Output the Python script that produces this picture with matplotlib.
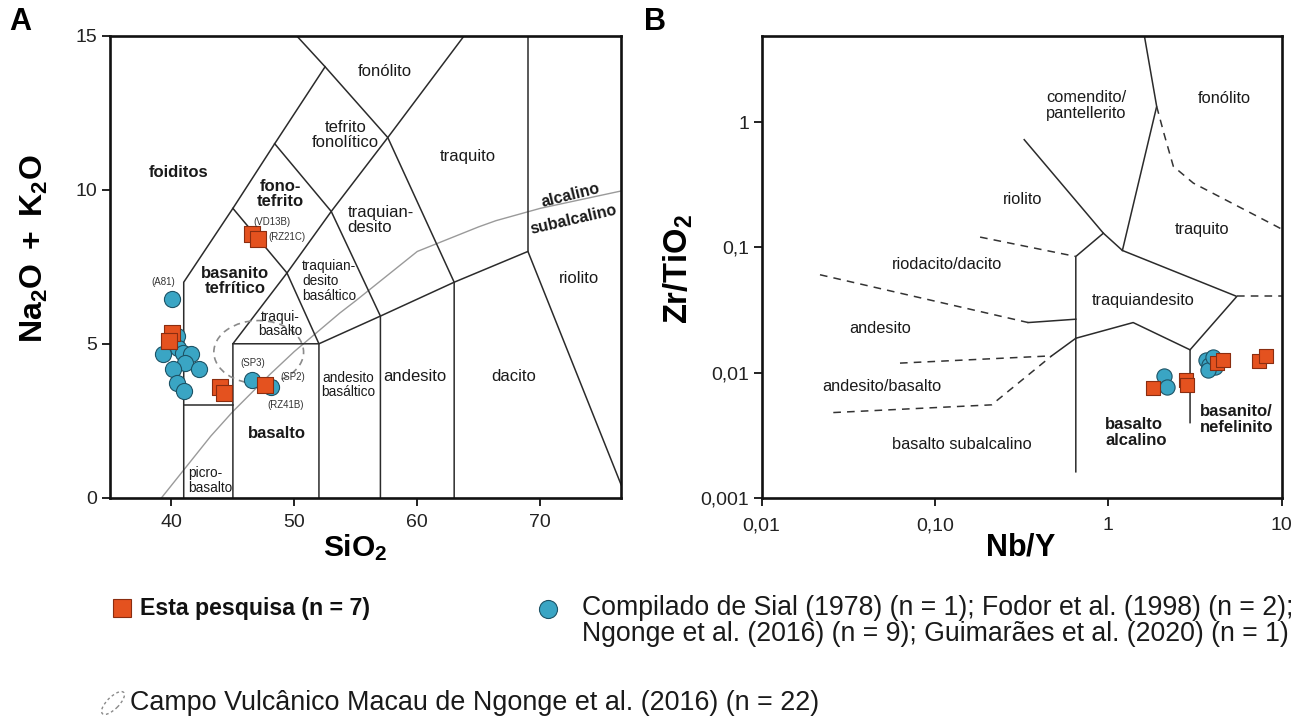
import matplotlib
matplotlib.use('Agg')
import matplotlib.pyplot as plt
from matplotlib.patches import Ellipse
from matplotlib.lines import Line2D

plt.rcParams['font.family'] = ['Liberation Sans', 'DejaVu Sans']
plt.rcParams['mathtext.fontset'] = 'custom'
plt.rcParams['mathtext.rm'] = 'Liberation Sans'
plt.rcParams['mathtext.bf'] = 'Liberation Sans:bold'
plt.rcParams['mathtext.it'] = 'Liberation Sans:italic'

# ---------------- data: panel A (TAS) ----------------
tas_circ_sio2 = [40.02, 40.43, 40.56, 39.34, 40.92, 41.60, 41.11, 40.15, 42.27, 40.43, 41.05, 46.59, 48.09]
tas_circ_alk = [6.45, 5.25, 4.85, 4.67, 4.71, 4.67, 4.37, 4.17, 4.17, 3.72, 3.48, 3.82, 3.61]
tas_sq_sio2 = [46.59, 47.08, 40.02, 39.80, 43.96, 44.31, 47.62]
tas_sq_alk = [8.56, 8.40, 5.34, 5.09, 3.61, 3.41, 3.66]
sample_names = ['(VD13B)', '(RZ21C)', '(A81)', '(SP3)', '(SP2)', '(RZ41B)']

# Irvine & Baragar alkaline / subalkaline divide
ib_sio2 = [39.2, 40.0, 43.2, 45.0, 48.0, 50.0, 53.7, 55.0, 60.0, 65.0, 66.4, 70.0, 77.0]
ib_alk = [0.0, 0.4, 2.0, 2.8, 4.0, 4.75, 6.0, 6.4, 8.0, 8.8, 9.0, 9.4, 10.0]

# TAS field boundaries (Le Bas et al. 1986)
tas_bounds = [
    [(41, 0), (41, 7), (45, 9.4), (48.4, 11.5), (52.5, 14), (50.2, 15)],
    [(41, 3), (45, 3)],
    [(45, 0), (45, 5), (49.4, 7.3), (53, 9.3), (57.6, 11.7), (63.8, 15)],
    [(45, 9.4), (49.4, 7.3), (52, 5), (52, 0)],
    [(48.4, 11.5), (53, 9.3), (57, 5.9), (57, 0)],
    [(52.5, 14), (57.6, 11.7), (63, 7), (63, 0)],
    [(45, 5), (52, 5), (57, 5.9), (63, 7), (69, 8), (77, 0)],
    [(69, 8), (69, 15)],
]

# ---------------- data: panel B (Nb/Y vs Zr/TiO2) ----------------
wf_circ_nby = [2.10, 2.19, 3.66, 3.83, 4.13, 3.78, 4.03]
wf_circ_zr = [0.0094, 0.0077, 0.0126, 0.0115, 0.0110, 0.0105, 0.0134]
wf_sq_nby = [1.80, 2.81, 2.86, 4.25, 4.61, 7.43, 8.13]
wf_sq_zr = [0.0075, 0.0088, 0.0080, 0.0119, 0.0127, 0.0123, 0.0136]

wf_solid = [
    [(1.61, 5.0), (1.90, 1.34), (1.205, 0.0946)],
    [(0.327, 0.727), (0.936, 0.130), (1.205, 0.0946), (5.51, 0.0406), (2.96, 0.0152), (2.96, 0.00398)],
    [(0.936, 0.130), (0.649, 0.0847), (0.649, 0.00161)],
    [(0.649, 0.0188), (1.39, 0.0251), (2.96, 0.0152)],
    [(0.345, 0.0251), (0.649, 0.0267)],
    [(0.471, 0.0136), (0.649, 0.0188)],
]
wf_dashed = [
    [(0.0217, 0.0605), (0.345, 0.0251)],
    [(0.0628, 0.0119), (0.471, 0.0136)],
    [(0.0259, 0.00479), (0.212, 0.00552), (0.471, 0.0136)],
    [(0.182, 0.121), (0.649, 0.0847)],
    [(1.90, 1.34), (2.10, 0.80), (2.37, 0.445), (3.09, 0.327), (9.37, 0.147), (10, 0.14)],
    [(5.51, 0.0406), (10, 0.0406)],
]

SQ_FACE, SQ_EDGE = '#E4521F', '#8A2D10'
CI_FACE, CI_EDGE = '#3AA5C4', '#1D5366'
LINE_C = '#2b2b2b'
TXT_C = '#1a1a1a'

fig = plt.figure(figsize=(13.06, 7.24), dpi=100)
axA = fig.add_axes([0.0842, 0.3126, 0.3911, 0.6377])
axB = fig.add_axes([0.5832, 0.3126, 0.3982, 0.6377])

for ax in (axA, axB):
    for s in ax.spines.values():
        s.set_linewidth(1.9)
        s.set_color('#111111')
    ax.tick_params(direction='out', length=6, width=1.3, labelsize=14,
                   colors='#111111', labelcolor='#222222', pad=3)

# ---------------- Panel A ----------------
axA.set_xlim(35, 76.55)
axA.set_ylim(0, 15)
axA.set_xticks([40, 50, 60, 70])
axA.set_yticks([0, 5, 10, 15])
axA.tick_params(axis='x', pad=6)
for line in tas_bounds:
    xs, ys = zip(*line)
    axA.plot(xs, ys, color=LINE_C, lw=1.1, solid_joinstyle='miter', zorder=2)
axA.plot(ib_sio2, ib_alk, color='#9a9a9a', lw=1.0, zorder=1.5)
axA.add_patch(Ellipse((47.1, 4.73), 7.3, 2.05, fill=False, ec='#8a8a8a',
                      lw=1.2, ls=(0, (4, 3)), zorder=2.5))
axA.scatter(tas_circ_sio2, tas_circ_alk, s=135, marker='o', fc=CI_FACE,
            ec=CI_EDGE, lw=0.8, zorder=4)
axA.scatter(tas_sq_sio2, tas_sq_alk, s=125, marker='s', fc=SQ_FACE,
            ec=SQ_EDGE, lw=0.8, zorder=5)

name_pos = [(48.17, 8.97), (49.39, 8.48), (39.32, 7.01), (46.65, 4.39),
            (49.90, 3.92), (49.25, 3.01)]
for nm, (x, y) in zip(sample_names, name_pos):
    axA.text(x, y, nm, fontsize=7, color='#333333', ha='center', va='center', zorder=6)

regA = [
    ('fonólito', 57.39, 13.84),
    ('tefrito\nfonolítico', 54.14, 11.78),
    ('traquito', 64.15, 11.07),
    ('andesito', 59.84, 3.93),
    ('dacito', 67.82, 3.93),
    ('riolito', 73.19, 7.11),
]
for t, x, y in regA:
    axA.text(x, y, t, fontsize=12, ha='center', va='center', color=TXT_C,
             linespacing=1.05, zorder=3)
axA.text(57.0, 9.02, 'traquian-\ndesito', fontsize=12, ha='center', va='center',
         multialignment='left', color=TXT_C, linespacing=1.05, zorder=3)
small = [
    ('andesito\nbasáltico', 54.38, 3.66, 'center', 'center'),
    ('traqui-\nbasalto', 48.84, 5.64, 'center', 'center'),
]
for t, x, y, ha, ma in small:
    axA.text(x, y, t, fontsize=9.8, ha=ha, va='center', multialignment=ma,
             color=TXT_C, linespacing=1.05, zorder=3)
axA.text(50.62, 7.04, 'traquian-\ndesito\nbasáltico', fontsize=9.8, ha='left',
         va='center', color=TXT_C, linespacing=1.05, zorder=3)
axA.text(41.35, 0.56, 'picro-\nbasalto', fontsize=9.8, ha='left', va='center',
         color=TXT_C, linespacing=1.05, zorder=3)
boldA = [
    ('foiditos', 40.54, 10.58),
    ('fono-\ntefrito', 48.84, 9.87),
    ('basanito\ntefrítico', 45.18, 7.04),
    ('basalto', 48.57, 2.10),
]
for t, x, y in boldA:
    axA.text(x, y, t, fontsize=12, fontweight='bold', ha='center', va='center',
             color=TXT_C, linespacing=1.05, zorder=3)
axA.text(72.46, 9.83, 'alcalino', fontsize=11.5, fontweight='bold', rotation=14,
         ha='center', va='center', rotation_mode='anchor', color=TXT_C)
axA.text(72.75, 9.02, 'subalcalino', fontsize=11.5, fontweight='bold', rotation=13,
         ha='center', va='center', rotation_mode='anchor', color=TXT_C)

axA.set_ylabel(r'$\mathbf{Na_2O\ +\ K_2O}$', fontsize=23)
axA.yaxis.set_label_coords(-0.118, 0.54)
axA.set_xlabel(r'$\mathbf{SiO_2}$', fontsize=21.5)
axA.xaxis.set_label_coords(0.48, -0.075)

# ---------------- Panel B ----------------
axB.set_xscale('log')
axB.set_yscale('log')
axB.set_xlim(0.01, 10)
axB.set_ylim(0.001, 4.9)
axB.set_xticks([0.01, 0.1, 1, 10])
axB.set_xticklabels(['0,01', '0,10', '1', '10'])
axB.set_yticks([0.001, 0.01, 0.1, 1])
axB.set_yticklabels(['0,001', '0,01', '0,1', '1'])
axB.minorticks_off()
axB.tick_params(axis='x', pad=8)

for line in wf_solid:
    xs, ys = zip(*line)
    axB.plot(xs, ys, color=LINE_C, lw=1.1, zorder=2)
for line in wf_dashed:
    xs, ys = zip(*line)
    axB.plot(xs, ys, color='#333333', lw=1.1, ls=(0, (5, 4)), zorder=2)

axB.scatter(wf_circ_nby, wf_circ_zr, s=120, marker='o', fc=CI_FACE, ec=CI_EDGE,
            lw=0.8, zorder=4)
axB.scatter(wf_sq_nby, wf_sq_zr, s=115, marker='s', fc=SQ_FACE, ec=SQ_EDGE,
            lw=0.8, zorder=5)

regB = [
    ('comendito/\npantellerito', 0.437, 1.36, 'left'),
    ('fonólito', 4.67, 1.54, 'center'),
    ('riolito', 0.321, 0.241, 'center'),
    ('traquito', 3.46, 0.140, 'center'),
    ('riodacito/dacito', 0.0562, 0.0727, 'left'),
    ('andesito', 0.0482, 0.0224, 'center'),
    ('andesito/basalto', 0.0492, 0.00773, 'center'),
    ('basalto subalcalino', 0.0562, 0.00264, 'left'),
    ('traquiandesito', 1.59, 0.0377, 'center'),
]
for t, x, y, ha in regB:
    axB.text(x, y, t, fontsize=11.8, ha=ha, va='center', color=TXT_C,
             linespacing=1.05, zorder=3)
axB.text(0.957, 0.0033, 'basalto\nalcalino', fontsize=12, fontweight='bold',
         ha='left', va='center', color=TXT_C, linespacing=1.1)
axB.text(3.39, 0.00419, 'basanito/\nnefelinito', fontsize=12, fontweight='bold',
         ha='left', va='center', color=TXT_C, linespacing=1.1)

axB.set_ylabel(r'$\mathbf{Zr/TiO_2}$', fontsize=23.5)
axB.yaxis.set_label_coords(-0.128, 0.495)
axB.set_xlabel(r'$\mathbf{Nb/Y}$', fontsize=22)
axB.xaxis.set_label_coords(0.497, -0.075)

# panel letters
fig.text(0.0153, 0.970, 'A', fontsize=22, fontweight='bold', ha='center', va='center')
fig.text(0.5015, 0.970, 'B', fontsize=22, fontweight='bold', ha='center', va='center')

# ---------------- legend ----------------
fig.add_artist(Line2D([0.0934], [0.1602], marker='s', ms=13, mfc=SQ_FACE, mec=SQ_EDGE,
                      mew=0.8, ls='none', transform=fig.transFigure))
fig.text(0.1072, 0.1602, 'Esta pesquisa (n = 7)', fontsize=16.7, fontweight='bold',
         ha='left', va='center', color='#111111')
fig.add_artist(Line2D([0.4198], [0.1588], marker='o', ms=13, mfc=CI_FACE, mec=CI_EDGE,
                      mew=0.8, ls='none', transform=fig.transFigure))
fig.text(0.4455, 0.1425,
         'Compilado de Sial (1978) (n = 1); Fodor et al. (1998) (n = 2);\n'
         'Ngonge et al. (2016) (n = 9); Guimarães et al. (2020) (n = 1)',
         fontsize=19.2, ha='left', va='center', color=TXT_C, linespacing=1.0)
fig.add_artist(Ellipse((1.13, 0.21), 0.30, 0.12, angle=45, fill=False, ec='#8a8a8a',
                       lw=1.0, ls=(0, (2, 2)), transform=fig.dpi_scale_trans))
fig.text(0.0995, 0.029, 'Campo Vulcânico Macau de Ngonge et al. (2016) (n = 22)',
         fontsize=19.4, ha='left', va='center', color=TXT_C)

fig.savefig('out.png', dpi=100)
